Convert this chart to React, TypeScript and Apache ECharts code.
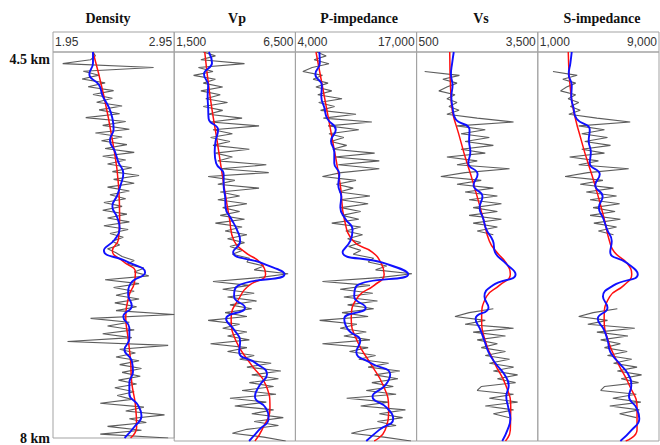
import React, { useEffect, useRef } from "react";
import * as echarts from "echarts";

const PANEL_TITLES = ["Density", "Vp", "P-impedance", "Vs", "S-impedance"];
const PANEL_MIN = [1.95, 1500, 4000, 500, 1000];
const PANEL_MAX = [2.95, 6500, 17000, 3500, 9000];
const DEPTH_MIN = 4.5;
const DEPTH_MAX = 8;

// depth samples (km)
const GRAY_DEPTHS = [
  4.5, 4.535, 4.57, 4.605, 4.64, 4.675, 4.71, 4.745, 4.78, 4.815,
  4.85, 4.885, 4.92, 4.955, 4.99, 5.025, 5.06, 5.095, 5.13, 5.165,
  5.2, 5.235, 5.27, 5.305, 5.34, 5.375, 5.41, 5.445, 5.48, 5.515,
  5.55, 5.585, 5.62, 5.655, 5.69, 5.725, 5.76, 5.795, 5.83, 5.865,
  5.9, 5.935, 5.97, 6.005, 6.04, 6.075, 6.11, 6.145, 6.18, 6.215,
  6.25, 6.285, 6.32, 6.355, 6.39, 6.425, 6.46, 6.495, 6.53, 6.565,
  6.6, 6.635, 6.67, 6.705, 6.74, 6.775, 6.81, 6.845, 6.88, 6.915,
  6.95, 6.985, 7.02, 7.055, 7.09, 7.125, 7.16, 7.195, 7.23, 7.265,
  7.3, 7.335, 7.37, 7.405, 7.44, 7.475, 7.51, 7.545, 7.58, 7.615,
  7.65, 7.685, 7.72, 7.755, 7.79, 7.825, 7.86, 7.895, 7.93, 7.965,
  8.0,
];
const SMOOTH_DEPTHS = [
  4.5, 4.6, 4.7, 4.8, 4.9, 5.0, 5.1, 5.2, 5.3, 5.4, 5.5, 5.6,
  5.7, 5.8, 5.9, 6.0, 6.1, 6.2, 6.3, 6.4, 6.5, 6.6, 6.7, 6.8,
  6.9, 7.0, 7.1, 7.2, 7.3, 7.4, 7.5, 7.6, 7.7, 7.8, 7.9, 8.0,
];
const TREND_DEPTHS = [4.5, 4.9, 5.3, 5.7, 6.0, 6.2, 6.3, 6.4, 6.5, 6.6, 6.7, 6.9, 7.1, 7.3, 7.5, 7.7, 7.9, 8.0];

// ---- Density (g/cc)
const densityLog = [
  2.28, 2.30, 2.26, 2.03, 2.78, 2.20, 2.33, 2.19, 2.38, 2.24,
  2.45, 2.28, 2.44, 2.31, 2.52, 2.33, 2.50, 2.22, 2.55, 2.36,
  2.58, 2.30, 2.52, 2.35, 2.56, 2.38, 2.62, 2.36, 2.55, 2.40,
  2.60, 2.44, 2.66, 2.45, 2.62, 2.40, 2.58, 2.42, 2.55, 2.37,
  2.52, 2.36, 2.56, 2.40, 2.58, 2.37, 2.57, 2.42, 2.53, 2.44,
  2.50, 2.40, 2.47, 2.52, 2.62, 2.56, 2.70, 2.62, 2.74, 2.38,
  2.66, 2.45, 2.62, 2.47, 2.66, 2.46, 2.64, 2.47, 2.95, 2.26,
  2.58, 2.40, 2.62, 2.36, 2.60, 2.07, 2.90, 2.50, 2.63, 2.47,
  2.66, 2.50, 2.68, 2.52, 2.67, 2.49, 2.64, 2.46, 2.62, 2.48,
  2.60, 2.34, 2.70, 2.55, 2.87, 2.58, 2.72, 2.40, 2.68, 2.34,
  2.90,
];
const densitySmooth = [
  2.28, 2.28, 2.25, 2.33, 2.36, 2.41, 2.44, 2.45, 2.42, 2.46, 2.49, 2.53,
  2.51, 2.48, 2.44, 2.48, 2.50, 2.46, 2.37, 2.56, 2.71, 2.59, 2.57, 2.60,
  2.53, 2.58, 2.58, 2.54, 2.60, 2.61, 2.58, 2.58, 2.65, 2.68, 2.62, 2.54,
];
const densityTrend = [2.28, 2.37, 2.44, 2.49, 2.50, 2.49, 2.44, 2.53, 2.63, 2.62, 2.58, 2.55, 2.57, 2.59, 2.60, 2.63, 2.64, 2.59];

// ---- Vp (m/s)
const vpLog = [
  2700, 3200, 2600, 4400, 2500, 3100, 2300, 3200, 2700, 3500,
  2600, 3400, 2800, 3700, 2700, 3500, 2900, 4300, 3000, 5000,
  3100, 3900, 3000, 3800, 3100, 4600, 3200, 3900, 3300, 5300,
  3400, 5400, 2900, 4000, 3300, 5000, 3400, 4200, 3300, 4500,
  3500, 4200, 3400, 4400, 3200, 4300, 3600, 4500, 3700, 4400,
  3800, 4300, 3900, 4600, 4500, 5200, 4800, 6200, 5000, 3100,
  4600, 3500, 4800, 3700, 4900, 3800, 4700, 3600, 4500, 2900,
  4200, 3500, 4500, 3700, 4600, 3000, 4500, 3700, 4800, 4200,
  5500, 4500, 5900, 4700, 5800, 4600, 5600, 4300, 5700, 3800,
  5300, 4000, 5600, 4700, 6000, 4800, 5800, 4500, 3900, 5200,
  6100,
];
const vpSmooth = [
  2930, 3060, 2730, 2900, 2880, 2900, 2920, 3310, 3210, 3170, 3230, 3540,
  3540, 3600, 3620, 3850, 4090, 4220, 3930, 5120, 6050, 4150, 3970, 4420,
  3640, 3970, 4220, 4180, 4870, 5330, 5020, 4830, 5270, 5390, 5000, 4590,
];
const vpTrend = [2760, 2980, 3270, 3550, 3780, 3970, 4420, 5080, 5270, 4590, 4220, 3850, 4050, 4630, 5290, 5450, 5120, 4830];

// ---- P-impedance
const pImpLog = [
  6300, 7300, 6000, 7600, 5800, 4800, 6900, 5900, 7500, 6200,
  7900, 6400, 9000, 6500, 8200, 6700, 10500, 7000, 12200, 7500,
  10800, 7600, 9200, 7800, 9500, 8000, 12500, 8200, 13000, 8600,
  13000, 8900, 6900, 10500, 8400, 10200, 8700, 12000, 8800, 11800,
  8900, 11000, 9000, 10800, 7900, 11000, 9400, 11200, 9600, 11000,
  9700, 11000, 10200, 12400, 11800, 13800, 12600, 16500, 13000, 6900,
  12000, 8800, 12300, 9200, 12800, 9600, 12400, 9000, 11800, 6600,
  10600, 8800, 11600, 9200, 12000, 6900, 11800, 9800, 12600, 10800,
  14000, 11800, 15200, 12500, 15000, 12200, 14500, 11600, 14800, 9500,
  14000, 11000, 15800, 13000, 15500, 12800, 14800, 11800, 10000, 13500,
  16400,
];
const pImpSmooth = [
  6570, 6620, 6140, 6840, 6780, 7100, 7420, 8330, 7820, 8170, 8170, 8710,
  8600, 8920, 8820, 9350, 10130, 9890, 9060, 13520, 16100, 10630, 10310, 11540,
  9240, 9670, 10960, 10530, 12130, 14170, 13630, 12270, 13790, 14490, 12990, 11600,
];
const pImpTrend = [6210, 7100, 7990, 8820, 9240, 10210, 12240, 13200, 13520, 12450, 10740, 9990, 10630, 12030, 13420, 14000, 13630, 12450];

// ---- Vs (m/s), null = no log
const vsLog = [
  null, null, null, null, null, 700, 1560, 1150, 1500, 1250,
  1050, 1450, 1250, 1500, 1300, 1550, 1250, 2000, 2900, 1500,
  2200, 1600, 2300, 1700, 2400, 1600, 2200, 1250, 2000, 1500,
  2800, 1700, 1100, 2100, 1500, 2400, 1700, 2500, 1800, 2600,
  1900, 2500, 1800, 2600, 1900, 2500, 2000, 2400, null, null,
  null, null, null, null, null, null, null, null, null, null,
  null, null, null, null, null, null, 2400, 1800, 1450, 2200,
  1700, 2900, 1900, 2700, 2000, 2500, 2100, 2700, 2200, 2800,
  2300, 2900, 2400, 3000, 2500, 2950, 2100, 2000, 2900, 2300,
  3000, 2200, 2900, 2400, 2800, null, null, null, null, null,
  null,
];
const vsSmooth = [
  1420, 1380, 1350, 1390, 1360, 1390, 1460, 1810, 1800, 1830, 1780, 2010,
  1910, 2130, 2060, 2150, 2230, 2390, 2440, 2700, 2950, 2380, 2180, 2280,
  1960, 2080, 2180, 2280, 2450, 2670, 2780, 2720, 2770, 2820, 2750, 2620,
];
const vsTrend = [1320, 1350, 1590, 1920, 2150, 2300, 2480, 2720, 2820, 2550, 2230, 2110, 2200, 2430, 2710, 2830, 2820, 2700];

// ---- S-impedance
const sImpLog = [
  null, null, null, null, null, 2000, 3600, 2650, 3500, 2900,
  2500, 3500, 3000, 3700, 3150, 3800, 3050, 4900, 7100, 3700,
  5400, 3900, 5600, 4100, 5800, 3900, 5400, 3100, 5000, 3700,
  7000, 4300, 2800, 5300, 3800, 6000, 4200, 6200, 4450, 6400,
  4650, 6100, 4450, 6450, 4700, 6200, 5000, 6000, null, null,
  null, null, null, null, null, null, null, null, null, null,
  null, null, null, null, null, null, 6250, 4650, 3700, 5600,
  4300, 7400, 4900, 6950, 5150, 6450, 5400, 6900, 5600, 7200,
  6000, 7550, 6250, 7850, 6500, 7650, 5400, 5150, 7500, 5950,
  7800, 5750, 7700, 6400, 7500, null, null, null, null, null,
  null,
];
const sImpSmooth = [
  3240, 3150, 3040, 3240, 3210, 3350, 3560, 4430, 4360, 4500, 4430, 5090,
  4790, 5280, 5030, 5330, 5580, 5880, 5780, 6910, 7600, 6000, 5300, 5600,
  4960, 5370, 5620, 5790, 6370, 6970, 7170, 7020, 7500, 7700, 7200, 6450,
];
const sImpTrend = [3010, 3200, 3880, 4780, 5380, 5730, 6050, 6880, 7200, 6680, 5750, 5380, 5650, 6290, 7050, 7550, 7550, 6800];

const LOGS = [densityLog, vpLog, pImpLog, vsLog, sImpLog];
const SMOOTHS = [densitySmooth, vpSmooth, pImpSmooth, vsSmooth, sImpSmooth];
const TRENDS = [densityTrend, vpTrend, pImpTrend, vsTrend, sImpTrend];

function fmtTick(v: number, panel: number): string {
  if (panel === 0) return v.toFixed(2);
  return Math.round(v).toLocaleString("en-US");
}

export default function App() {
  const ref = useRef<HTMLDivElement>(null);

  useEffect(() => {
    if (!ref.current) return;
    const chart = echarts.init(ref.current, undefined, { renderer: "svg" });

    const GRID_LEFT = 53;
    const GRID_TOP = 52;
    const GRID_H = 389;
    const PANEL_W = 121.2;
    const HEADER_TOP = 32;
    const TITLE_X = [108, 237, 359, 481, 602];
    const sans = "'Liberation Sans', Arial, sans-serif";
    const serif = "'Liberation Serif', 'Times New Roman', serif";

    const grids: any[] = [];
    const xAxes: any[] = [];
    const yAxes: any[] = [];
    const series: any[] = [];
    const graphics: any[] = [];

    PANEL_TITLES.forEach((title, i) => {
      const left = GRID_LEFT + i * PANEL_W;
      const mn = PANEL_MIN[i];
      const mx = PANEL_MAX[i];
      grids.push({
        left,
        top: GRID_TOP,
        width: PANEL_W,
        height: GRID_H,
        show: true,
        borderColor: "#a3a3a3",
        borderWidth: 1,
        backgroundColor: "transparent",
      });
      xAxes.push({
        type: "value",
        gridIndex: i,
        position: "top",
        min: mn,
        max: mx,
        axisLine: { show: false },
        axisTick: { show: false },
        splitLine: { show: false },
        axisLabel: {
          show: true,
          margin: 4,
          fontSize: 12,
          fontFamily: sans,
          color: "#333",
          showMinLabel: true,
          showMaxLabel: true,
          alignMinLabel: "left",
          alignMaxLabel: "right",
          padding: [0, 2, 0, 2],
          formatter: (v: number) =>
            Math.abs(v - mn) < 1e-9 || Math.abs(v - mx) < 1e-9 ? fmtTick(v, i) : "",
        },
      });
      yAxes.push({
        type: "value",
        gridIndex: i,
        inverse: true,
        min: DEPTH_MIN,
        max: DEPTH_MAX,
        axisLine: { show: false },
        axisTick: { show: false },
        splitLine: { show: false },
        axisLabel:
          i === 0
            ? {
                show: true,
                margin: 3,
                fontSize: 14,
                fontWeight: "bold",
                fontFamily: serif,
                color: "#111",
                showMinLabel: true,
                showMaxLabel: true,
                verticalAlignMinLabel: "top",
                formatter: (v: number) =>
                  Math.abs(v - DEPTH_MIN) < 1e-9 || Math.abs(v - DEPTH_MAX) < 1e-9 ? `${v} km` : "",
              }
            : { show: false },
      });

      const log = LOGS[i];
      series.push({
        type: "line",
        xAxisIndex: i,
        yAxisIndex: i,
        data: GRAY_DEPTHS.map((d, j) => [log[j] === null ? "-" : log[j], d]),
        showSymbol: false,
        symbol: "none",
        connectNulls: false,
        silent: true,
        lineStyle: { color: "#4a4a4a", width: 1.1, opacity: 0.9 },
        z: 1,
      });
      series.push({
        type: "line",
        xAxisIndex: i,
        yAxisIndex: i,
        data: TREND_DEPTHS.map((d, j) => [TRENDS[i][j], d]),
        showSymbol: false,
        symbol: "none",
        smooth: 0.5,
        silent: true,
        lineStyle: { color: "#ff1010", width: 1.5 },
        z: 2,
      });
      series.push({
        type: "line",
        xAxisIndex: i,
        yAxisIndex: i,
        data: SMOOTH_DEPTHS.map((d, j) => [SMOOTHS[i][j], d]),
        showSymbol: false,
        symbol: "none",
        smooth: 0.5,
        silent: true,
        lineStyle: { color: "#1010ff", width: 1.9 },
        z: 3,
      });

      graphics.push({
        type: "rect",
        shape: { x: left, y: HEADER_TOP, width: PANEL_W, height: GRID_TOP - HEADER_TOP },
        style: { fill: "none", stroke: "#a3a3a3", lineWidth: 1 },
        silent: true,
      });
      graphics.push({
        type: "text",
        x: TITLE_X[i],
        y: 18,
        style: {
          text: title,
          fontSize: 14,
          fontWeight: "bold",
          fontFamily: serif,
          fill: "#111",
          textAlign: "center",
          textVerticalAlign: "middle",
        },
        silent: true,
      });
    });

    chart.setOption({
      animation: false,
      backgroundColor: "#ffffff",
      textStyle: { fontFamily: sans },
      grid: grids,
      xAxis: xAxes,
      yAxis: yAxes,
      series,
      graphic: graphics,
    });

    return () => chart.dispose();
  }, []);

  return (
    <div
      ref={ref}
      style={{ position: "fixed", left: 0, top: 0, width: 660, height: 445, background: "#fff" }}
    />
  );
}
